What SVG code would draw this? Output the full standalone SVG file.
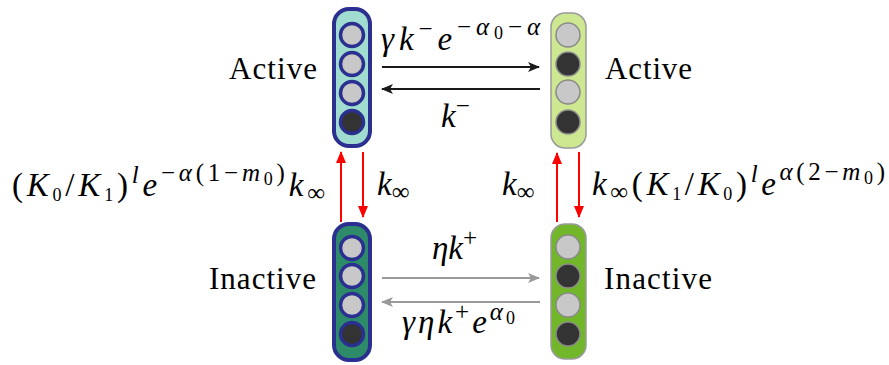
<svg xmlns="http://www.w3.org/2000/svg" width="889" height="365" viewBox="0 0 889 365">
<style>
.m{font-family:"Liberation Serif","DejaVu Serif",serif;font-size:31px;fill:#000}
.mm{font-size:33px}
.i{font-style:italic}
.s{font-size:25px}
.ss{font-size:18px}
.blk{stroke:#1a1a1a;stroke-width:2;fill:none}
.gry{stroke:#999;stroke-width:2;fill:none}
.red{stroke:#f00;stroke-width:2;fill:none}
.bnode{stroke:#2b2f8f;stroke-width:4}
.gnode{stroke:#9a9a9a;stroke-width:1.5}
.bc{stroke:#2b2f8f;stroke-width:3.5}
.gc{stroke:#8a8a8a;stroke-width:1.5}
.lt{fill:#c8c8c8}
.dk{fill:#333}
</style>
<defs>
<marker id="ab" viewBox="0 0 12 10" refX="11" refY="5" markerWidth="12" markerHeight="10" markerUnits="userSpaceOnUse" orient="auto"><path d="M0,0 L12,5 L0,10 L3,5 z" fill="#1a1a1a"/></marker>
<marker id="ag" viewBox="0 0 12 10" refX="11" refY="5" markerWidth="12" markerHeight="10" markerUnits="userSpaceOnUse" orient="auto"><path d="M0,0 L12,5 L0,10 L3,5 z" fill="#999"/></marker>
<marker id="ar" viewBox="0 0 12 10" refX="11" refY="5" markerWidth="12" markerHeight="10" markerUnits="userSpaceOnUse" orient="auto"><path d="M0,0 L12,5 L0,10 z" fill="#f00"/></marker>
</defs>

<g id="active-left">
<rect x="334" y="9" width="36" height="137" rx="15" fill="#a0dccf" class="bnode"/>
<circle cx="352" cy="35" r="11.5" class="bc lt"/>
<circle cx="352" cy="64" r="11.5" class="bc lt"/>
<circle cx="352" cy="93" r="11.5" class="bc lt"/>
<circle cx="352" cy="122" r="11.5" class="bc dk"/>
<text x="229" y="79" class="m" textLength="88">Active</text>
</g>

<g id="active-right">
<rect x="551" y="13" width="35" height="135" rx="14" fill="#cde890" class="gnode"/>
<circle cx="568" cy="35" r="12" class="gc lt"/>
<circle cx="568" cy="64" r="12" class="gc dk"/>
<circle cx="568" cy="92" r="12" class="gc lt"/>
<circle cx="568" cy="122" r="12" class="gc dk"/>
<text x="605" y="79" class="m" textLength="87">Active</text>
</g>

<g id="inactive-left">
<rect x="334" y="224" width="36" height="136" rx="15" fill="#2e8b6a" class="bnode"/>
<circle cx="352" cy="248" r="11.5" class="bc lt"/>
<circle cx="352" cy="276" r="11.5" class="bc lt"/>
<circle cx="352" cy="305" r="11.5" class="bc lt"/>
<circle cx="352" cy="334" r="11.5" class="bc dk"/>
<text x="209" y="289" class="m" textLength="107">Inactive</text>
</g>

<g id="inactive-right">
<rect x="551" y="224" width="35" height="135" rx="14" fill="#72b72a" class="gnode"/>
<circle cx="568" cy="247" r="12" class="gc lt"/>
<circle cx="568" cy="276" r="12" class="gc dk"/>
<circle cx="568" cy="305" r="12" class="gc lt"/>
<circle cx="568" cy="334" r="12" class="gc dk"/>
<text x="604" y="289" class="m" textLength="108">Inactive</text>
</g>

<g id="connectors">
<line x1="382" y1="67" x2="539" y2="67" class="blk" marker-end="url(#ab)"/>
<line x1="540" y1="89" x2="382" y2="89" class="blk" marker-end="url(#ab)"/>
<line x1="382" y1="278" x2="539" y2="278" class="gry" marker-end="url(#ag)"/>
<line x1="540" y1="302" x2="382" y2="302" class="gry" marker-end="url(#ag)"/>
<line x1="341" y1="222" x2="341" y2="152" class="red" marker-end="url(#ar)"/>
<line x1="363" y1="152" x2="363" y2="217" class="red" marker-end="url(#ar)"/>
<line x1="557" y1="222" x2="557" y2="153" class="red" marker-end="url(#ar)"/>
<line x1="579" y1="152" x2="579" y2="217" class="red" marker-end="url(#ar)"/>

<text x="381" y="50" class="m mm" textLength="159" lengthAdjust="spacing"><tspan class="i">γk</tspan><tspan class="s" dy="-13">−</tspan><tspan class="i" dy="13">e</tspan><tspan class="s" dy="-15">−</tspan><tspan class="s i">α</tspan><tspan class="ss" dy="4">0</tspan><tspan class="s" dy="-4">−</tspan><tspan class="s i">α</tspan></text>
<text x="441" y="127" class="m mm"><tspan class="i">k</tspan><tspan class="s" dy="-13">−</tspan></text>

<text x="12" y="196" class="m mm" textLength="313" lengthAdjust="spacing"><tspan>(</tspan><tspan class="i">K</tspan><tspan class="ss" dy="5">0</tspan><tspan dy="-5">/</tspan><tspan class="i">K</tspan><tspan class="ss" dy="5">1</tspan><tspan dy="-5">)</tspan><tspan class="s i" dy="-13">l</tspan><tspan class="i" dy="13">e</tspan><tspan class="s" dy="-15">−</tspan><tspan class="s i">α</tspan><tspan class="s">(1−</tspan><tspan class="s i">m</tspan><tspan class="ss" dy="4">0</tspan><tspan class="s" dy="-4">)</tspan><tspan class="i" dy="15">k</tspan><tspan class="s" dy="5">∞</tspan></text>
<text x="377" y="195" class="m mm"><tspan class="i">k</tspan><tspan class="s" dy="5">∞</tspan></text>

<text x="502" y="195" class="m mm"><tspan class="i">k</tspan><tspan class="s" dy="5">∞</tspan></text>
<text x="592" y="195" class="m mm" textLength="293" lengthAdjust="spacing"><tspan class="i">k</tspan><tspan class="s" dy="5">∞</tspan><tspan dy="-5">(</tspan><tspan class="i">K</tspan><tspan class="ss" dy="5">1</tspan><tspan dy="-5">/</tspan><tspan class="i">K</tspan><tspan class="ss" dy="5">0</tspan><tspan dy="-5">)</tspan><tspan class="s i" dy="-13">l</tspan><tspan class="i" dy="13">e</tspan><tspan class="s i" dy="-15">α</tspan><tspan class="s">(2−</tspan><tspan class="s i">m</tspan><tspan class="ss" dy="4">0</tspan><tspan class="s" dy="-4">)</tspan></text>

<text x="432" y="259" class="m mm"><tspan class="i">ηk</tspan><tspan class="s" dy="-13">+</tspan></text>
<text x="402" y="333" class="m mm" textLength="113" lengthAdjust="spacing"><tspan class="i">γηk</tspan><tspan class="s" dy="-13">+</tspan><tspan class="i" dy="13">e</tspan><tspan class="s i" dy="-13">α</tspan><tspan class="ss" dy="4">0</tspan></text>
</g>
</svg>
